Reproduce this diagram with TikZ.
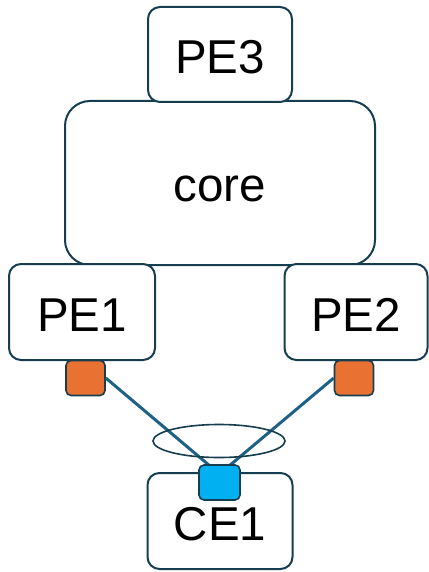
\documentclass[tikz,border=0pt]{standalone}
\usepackage{fontspec}
\setmainfont{Liberation Sans}
\usetikzlibrary{positioning}

\definecolor{edgeblue}{HTML}{163E50}
\definecolor{linkblue}{HTML}{1D6286}
\definecolor{portorange}{HTML}{E97132}
\definecolor{portblue}{HTML}{00B0F0}

\tikzset{
  router/.style={draw=edgeblue, line width=2pt, fill=white, rounded corners=12pt,
    minimum width=145pt, minimum height=96pt, inner sep=0pt,
    text height=39pt, text depth=0pt,
    font=\fontsize{47.5}{56}\selectfont},
  port/.style={draw=edgeblue, line width=1.6pt, rounded corners=5pt,
    minimum width=39pt, minimum height=35pt, inner sep=0pt},
  link/.style={draw=linkblue, line width=3pt}
}

\begin{document}
\begin{tikzpicture}[x=1pt, y=-1pt]

\useasboundingbox (0, 0) rectangle (428, 572);

\node[router, minimum width=310pt, minimum height=164pt, rounded corners=25pt,
  text height=36pt] (core) at (220, 183) {core};
\node[router, minimum width=144pt, minimum height=95pt] (pe3) at (220, 54.5) {PE3};

\node[router, minimum width=146pt] (pe1) at (82, 312) {PE1};
\node[router, minimum width=143pt] (pe2) at (356, 312) {PE2};

\node[router] (ce1) at (220, 521) {CE1};

% attachment circuits
\node[port, fill=portorange] (p1) at (85.5, 378) {};
\node[port, fill=portorange] (p2) at (354, 378) {};
\coordinate (c1) at (210, 466);
\coordinate (c2) at (229, 466);

\draw[link] (p1.east) -- (c1);
\draw[link] (p2.west) -- (c2);

\draw[edgeblue, line width=1.6pt] (219, 441) ellipse (66pt and 16.5pt);

\node[port, fill=portblue, minimum width=41pt] (ce1port) at (219.5, 482.5) {};

\end{tikzpicture}
\end{document}
